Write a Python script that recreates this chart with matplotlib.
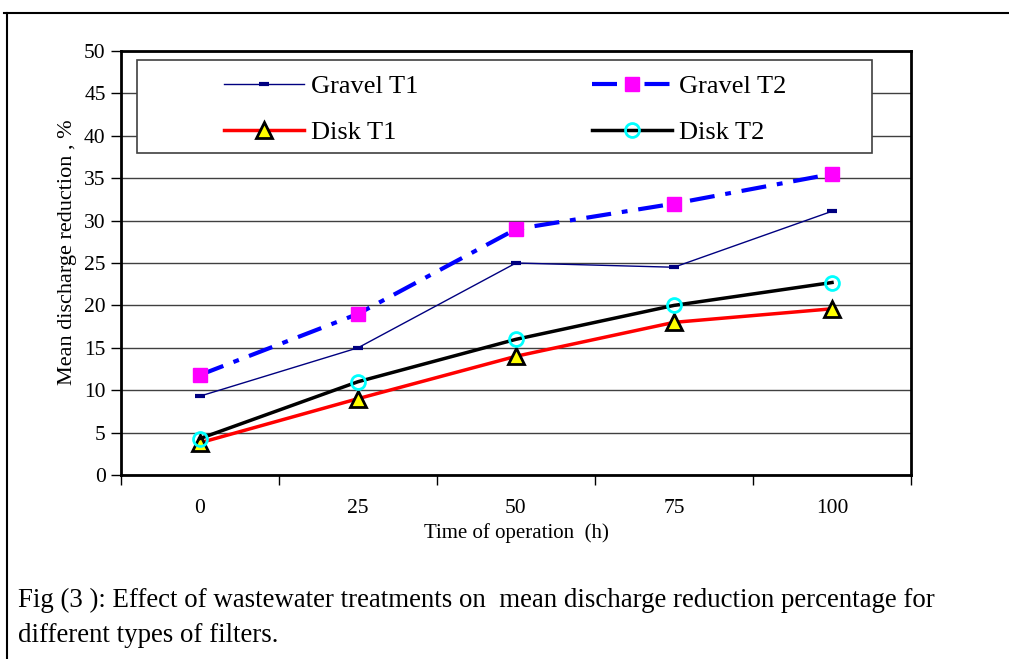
import matplotlib
matplotlib.use('Agg')
import matplotlib.pyplot as plt
from matplotlib.lines import Line2D
from matplotlib.patches import Rectangle

# data
hours = ['0', '25', '50', '75', '100']
gravel_t1 = [9.3, 15.0, 25.0, 24.5, 31.1]
gravel_t2 = [11.8, 19.0, 29.0, 32.0, 35.5]
disk_t1 = [3.8, 9.0, 14.0, 18.0, 19.6]
disk_t2 = [4.3, 11.0, 16.0, 20.0, 22.7]

plt.rcParams['font.family'] = ['Liberation Serif', 'DejaVu Serif']

W, H = 1009, 659
fig = plt.figure(figsize=(W / 100, H / 100), dpi=100)
ax = fig.add_axes([121 / W, 1 - 475 / H, (911 - 121) / W, (475 - 51) / H])

x = list(range(len(hours)))

ax.plot(x, gravel_t1, color='#000080', lw=1, marker='_', ms=7, mew=3,
        label='Gravel T1', zorder=3)
ax.plot(x, gravel_t2, color='#0000FF', lw=3, dashes=(6, 2.6, 1.4, 2.6), marker='s',
        ms=10.5, mfc='#FF00FF', mec='#FF00FF', label='Gravel T2', zorder=3)
ax.plot(x, disk_t1, color='#FF0000', lw=2.5, marker='^', ms=11,
        mfc='#FFFF00', mec='black', mew=2, label='Disk T1', zorder=4)
ax.plot(x, disk_t2, color='black', lw=2.5, marker='o', ms=10,
        mfc='none', mec='#00FFFF', mew=2, label='Disk T2', zorder=5)

ax.set_ylim(0, 50)
ax.set_yticks(range(0, 51, 5))
ax.set_xlim(-0.5, len(hours) - 0.5)
ax.set_xticks([i - 0.5 for i in range(len(hours) + 1)])
ax.set_xticklabels([])
ax.set_xticks(x, minor=True)
ax.set_xticklabels(hours, minor=True)
ax.tick_params(axis='x', which='minor', length=0, pad=17, labelsize=15.5)
ax.tick_params(axis='x', which='major', length=7, width=1, direction='out')
ax.tick_params(axis='y', length=7, width=1, direction='out', pad=4, labelsize=15.5)

ax.yaxis.grid(True, color='#404040', lw=1)
ax.set_axisbelow(True)
for s in ax.spines.values():
    s.set_linewidth(2)

ax.set_xlabel('Time of operation  (h)', fontsize=15, labelpad=4)
ax.set_ylabel('Mean discharge reduction , %', fontsize=16)
ax.yaxis.set_label_coords(-44 / 790, 0.526)

# legend box drawn separately, entries placed inside it
fig.add_artist(Rectangle((137 / W, 1 - 153 / H), (872 - 137) / W, 93 / H,
                         transform=fig.transFigure, facecolor='white',
                         edgecolor='#404040', lw=1.2, zorder=6))
h, l = ax.get_legend_handles_labels()
order = [0, 2, 1, 3]
leg = fig.legend([h[i] for i in order], [l[i] for i in order], ncol=2,
                 loc='upper left', bbox_to_anchor=(224 / W, 1 - 75 / H),
                 bbox_transform=fig.transFigure, fontsize=19, handlelength=3.05,
                 frameon=False, borderaxespad=0, borderpad=0,
                 columnspacing=6.57, handletextpad=0.25, labelspacing=0.85)
leg.set_zorder(7)

# outer frame lines of the page figure
fig.add_artist(Line2D([4 / W, 1], [1 - 13 / H, 1 - 13 / H], color='black', lw=1.5))
fig.add_artist(Line2D([7 / W, 7 / W], [0, 1 - 13 / H], color='black', lw=1.5))

fig.text(18 / W, 1 - 600 / H,
         'Fig (3 ): Effect of wastewater treatments on  mean discharge reduction percentage for',
         fontsize=19.4, va='center', ha='left')
fig.text(18 / W, 1 - 636 / H, 'different types of filters.',
         fontsize=19.4, va='center', ha='left')

fig.savefig('out.png', dpi=100)
